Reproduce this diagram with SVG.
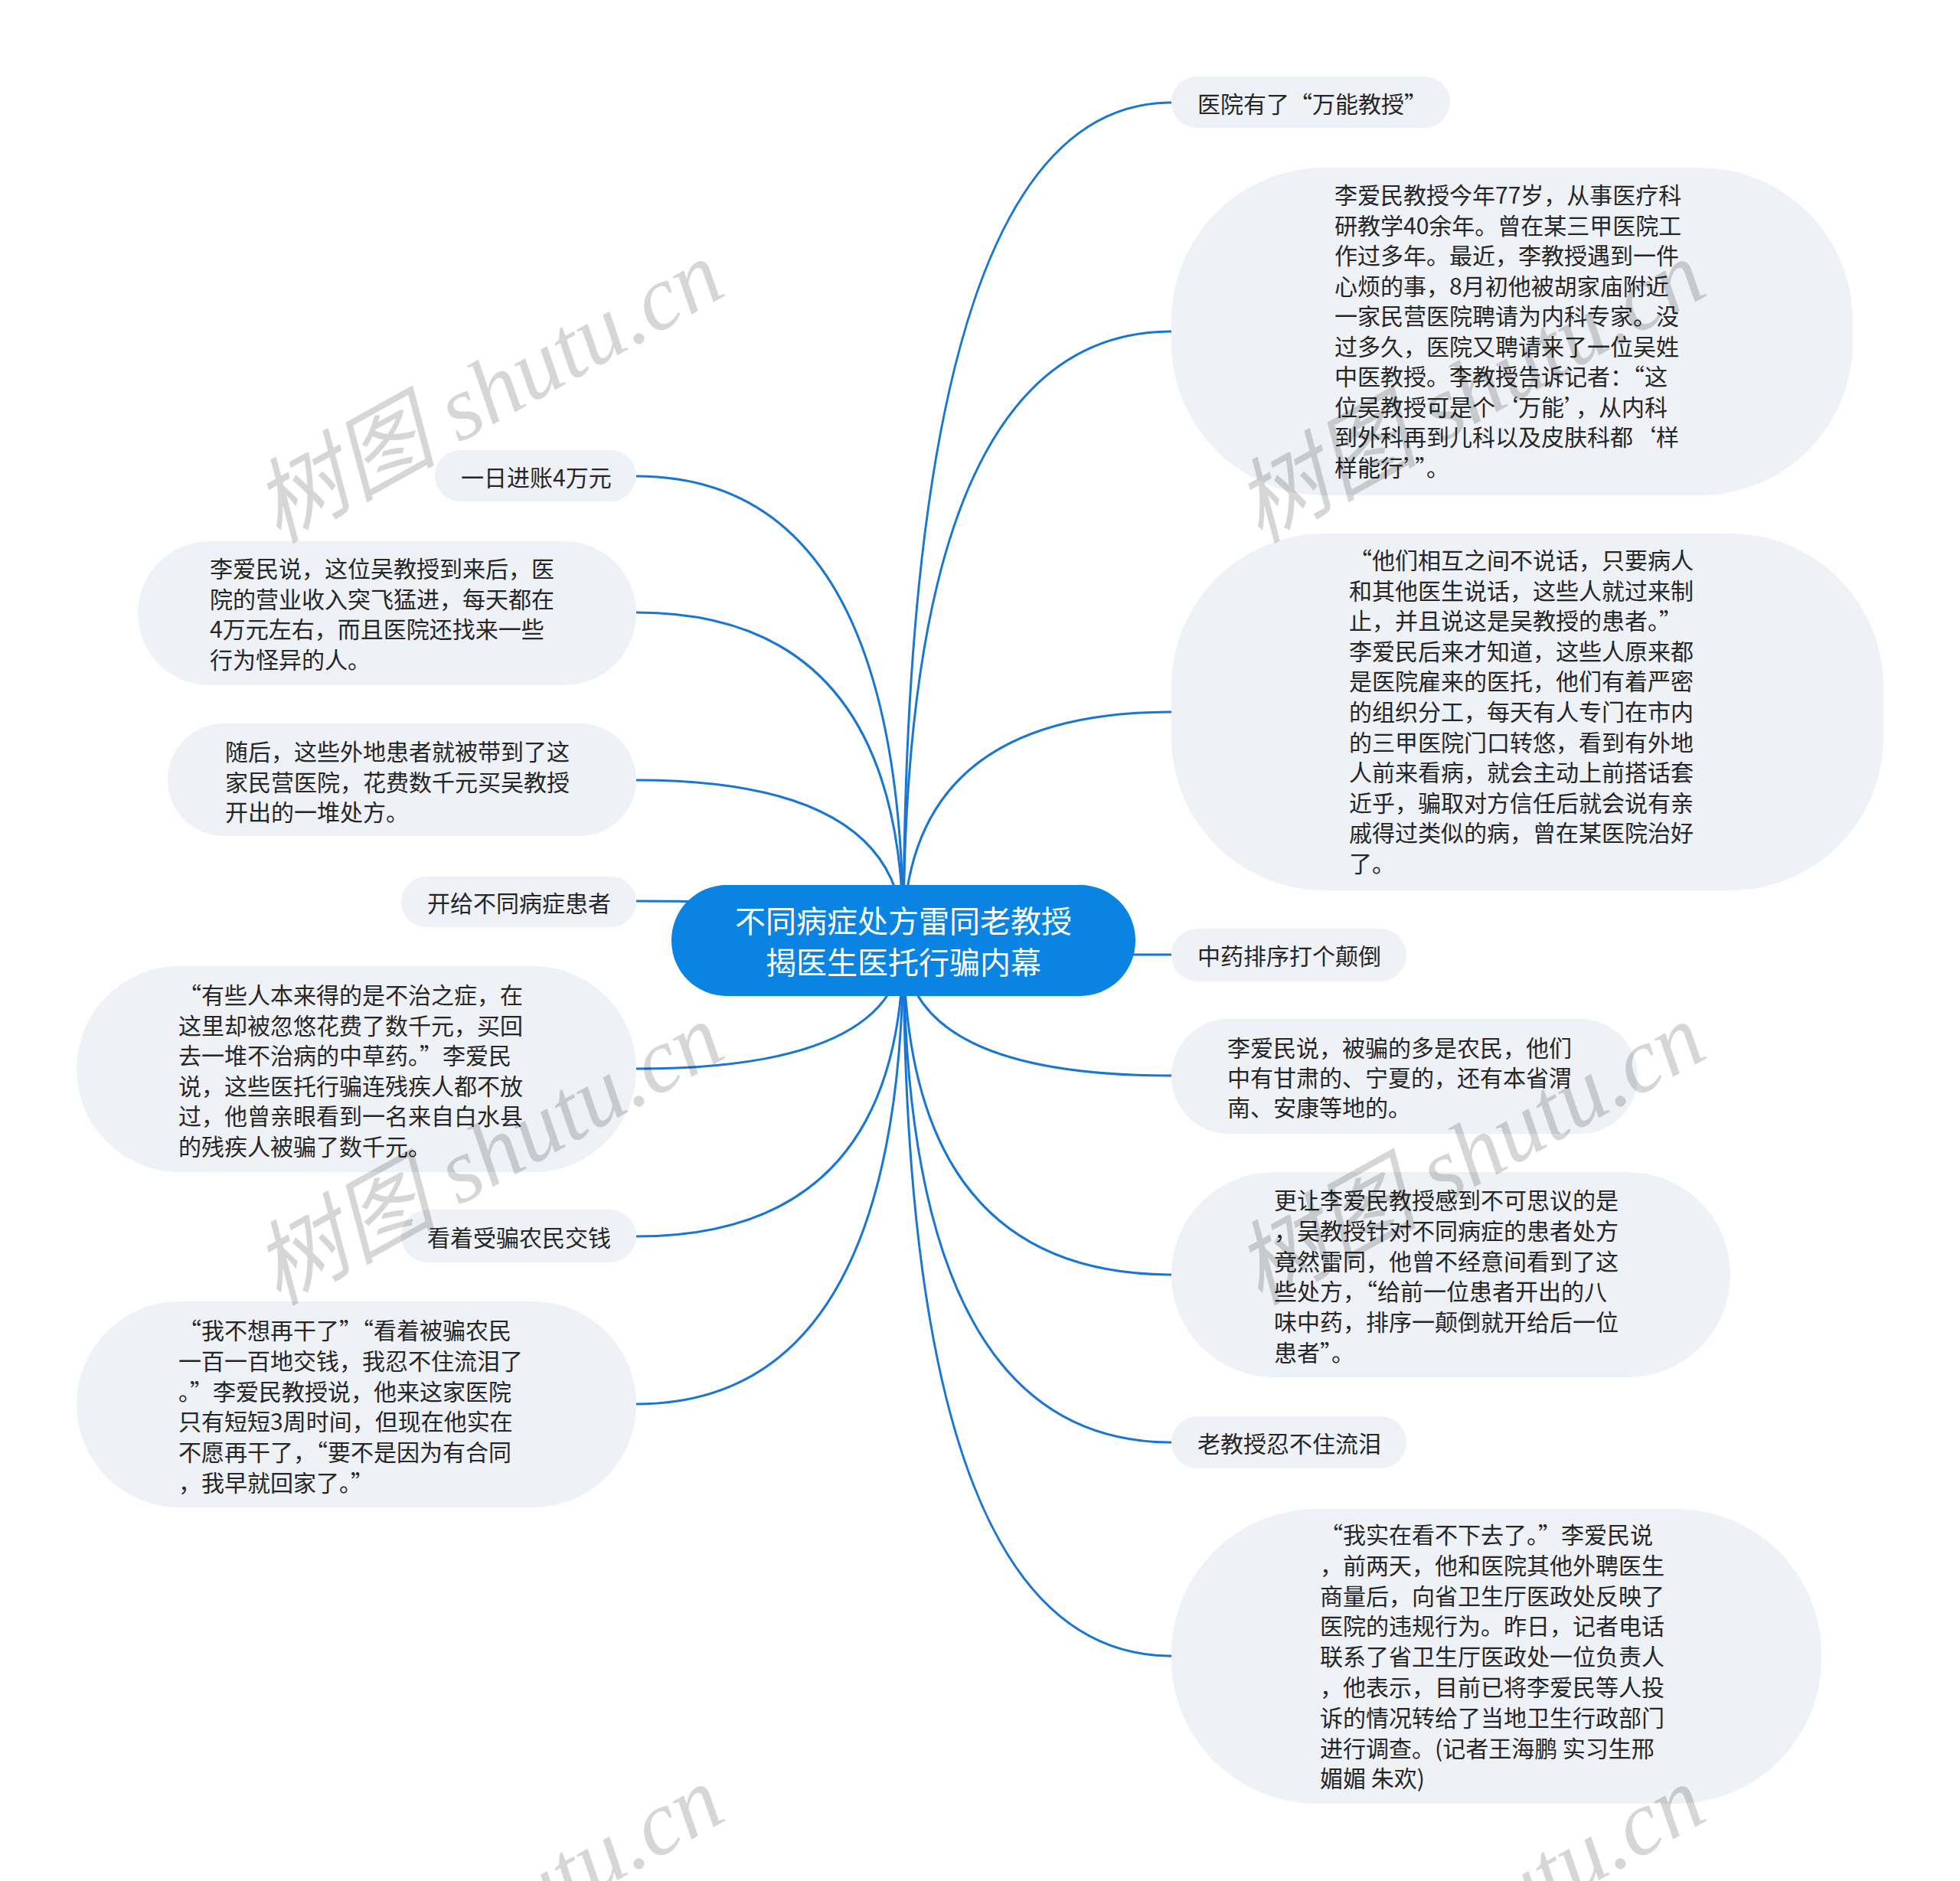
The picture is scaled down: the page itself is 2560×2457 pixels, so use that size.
<svg xmlns="http://www.w3.org/2000/svg" width="2560" height="2457" viewBox="0 0 2560 2457">
<style>
.bg{fill:#ffffff}
.link{fill:none;stroke:#1976d2;stroke-width:3}
.node{fill:#eef1f5}
.root{fill:#0984e3}
.t{font-family:"Noto Sans CJK SC","Noto Sans",sans-serif;font-size:30px;fill:#262626;dominant-baseline:central}
.rt{font-family:"Noto Sans CJK SC","Noto Sans",sans-serif;font-size:40px;fill:#ffffff;dominant-baseline:central;text-anchor:middle}
.wm{font-family:"Liberation Serif","Noto Sans CJK SC",serif;font-style:italic;font-size:120px;fill:#000000;fill-opacity:0.16}
</style>
<rect class="bg" x="0" y="0" width="2560" height="2457"/>
<g id="connectors">
<path class="link" d="M1180 1228 Q1180 134 1530 134"/>
<path class="link" d="M1180 1228 Q1180 433 1530 433"/>
<path class="link" d="M1180 1228 Q1180 930 1530 930"/>
<path class="link" d="M1180 1228 Q1180 1247 1530 1247"/>
<path class="link" d="M1180 1228 Q1180 1405 1530 1405"/>
<path class="link" d="M1180 1228 Q1180 1665 1530 1665"/>
<path class="link" d="M1180 1228 Q1180 1884 1530 1884"/>
<path class="link" d="M1180 1228 Q1180 2163 1530 2163"/>
<path class="link" d="M1180 1228 Q1180 622 831 622"/>
<path class="link" d="M1180 1228 Q1180 800 831 800"/>
<path class="link" d="M1180 1228 Q1180 1019 831 1019"/>
<path class="link" d="M1180 1228 Q1180 1177 831 1177"/>
<path class="link" d="M1180 1228 Q1180 1396 831 1396"/>
<path class="link" d="M1180 1228 Q1180 1615 831 1615"/>
<path class="link" d="M1180 1228 Q1180 1834 831 1834"/>
</g>
<g id="root">
<rect class="root" x="877" y="1156" width="606" height="145" rx="72"/>
<text class="rt" x="1180" y="1201">不同病症处方雷同老教授</text>
<text class="rt" x="1180" y="1255">揭医生医托行骗内幕</text>
</g>
<g id="r1">
<rect class="node" x="1530" y="100" width="364" height="67" rx="33.5"/>
<text class="t" x="1564" y="134">医院有了“万能教授”</text>
</g>
<g id="r2">
<rect class="node" x="1530" y="219" width="890" height="428" rx="200"/>
<text class="t" x="1743" y="253">李爱民教授今年77岁，从事医疗科</text>
<text class="t" x="1743" y="292.5">研教学40余年。曾在某三甲医院工</text>
<text class="t" x="1743" y="332">作过多年。最近，李教授遇到一件</text>
<text class="t" x="1743" y="371.5">心烦的事，8月初他被胡家庙附近</text>
<text class="t" x="1743" y="411">一家民营医院聘请为内科专家。没</text>
<text class="t" x="1743" y="450.5">过多久，医院又聘请来了一位吴姓</text>
<text class="t" x="1743" y="490">中医教授。李教授告诉记者：“这</text>
<text class="t" x="1743" y="529.5">位吴教授可是个‘万能’，从内科</text>
<text class="t" x="1743" y="569">到外科再到儿科以及皮肤科都‘样</text>
<text class="t" x="1743" y="608.5">样能行’”。</text>
</g>
<g id="r3">
<rect class="node" x="1530" y="697" width="930" height="466" rx="200"/>
<text class="t" x="1762" y="730">“他们相互之间不说话，只要病人</text>
<text class="t" x="1762" y="769.6">和其他医生说话，这些人就过来制</text>
<text class="t" x="1762" y="809.2">止，并且说这是吴教授的患者。”</text>
<text class="t" x="1762" y="848.8">李爱民后来才知道，这些人原来都</text>
<text class="t" x="1762" y="888.4">是医院雇来的医托，他们有着严密</text>
<text class="t" x="1762" y="928">的组织分工，每天有人专门在市内</text>
<text class="t" x="1762" y="967.6">的三甲医院门口转悠，看到有外地</text>
<text class="t" x="1762" y="1007.2">人前来看病，就会主动上前搭话套</text>
<text class="t" x="1762" y="1046.8">近乎，骗取对方信任后就会说有亲</text>
<text class="t" x="1762" y="1086.4">戚得过类似的病，曾在某医院治好</text>
<text class="t" x="1762" y="1126">了。</text>
</g>
<g id="r4">
<rect class="node" x="1530" y="1213" width="307" height="69" rx="34.5"/>
<text class="t" x="1564" y="1247">中药排序打个颠倒</text>
</g>
<g id="r5">
<rect class="node" x="1530" y="1331" width="609" height="150" rx="75"/>
<text class="t" x="1603" y="1367">李爱民说，被骗的多是农民，他们</text>
<text class="t" x="1603" y="1406">中有甘肃的、宁夏的，还有本省渭</text>
<text class="t" x="1603" y="1445">南、安康等地的。</text>
</g>
<g id="r6">
<rect class="node" x="1530" y="1531" width="730" height="268" rx="134"/>
<text class="t" x="1664" y="1566">更让李爱民教授感到不可思议的是</text>
<text class="t" x="1664" y="1605.8">，吴教授针对不同病症的患者处方</text>
<text class="t" x="1664" y="1645.6">竟然雷同，他曾不经意间看到了这</text>
<text class="t" x="1664" y="1685.4">些处方，“给前一位患者开出的八</text>
<text class="t" x="1664" y="1725.2">味中药，排序一颠倒就开给后一位</text>
<text class="t" x="1664" y="1765">患者”。</text>
</g>
<g id="r7">
<rect class="node" x="1530" y="1850" width="307" height="68" rx="34"/>
<text class="t" x="1564" y="1884">老教授忍不住流泪</text>
</g>
<g id="r8">
<rect class="node" x="1530" y="1971" width="849" height="385" rx="190"/>
<text class="t" x="1724" y="2003">“我实在看不下去了。”李爱民说</text>
<text class="t" x="1724" y="2042.8">，前两天，他和医院其他外聘医生</text>
<text class="t" x="1724" y="2082.6">商量后，向省卫生厅医政处反映了</text>
<text class="t" x="1724" y="2122.4">医院的违规行为。昨日，记者电话</text>
<text class="t" x="1724" y="2162.2">联系了省卫生厅医政处一位负责人</text>
<text class="t" x="1724" y="2202">，他表示，目前已将李爱民等人投</text>
<text class="t" x="1724" y="2241.8">诉的情况转给了当地卫生行政部门</text>
<text class="t" x="1724" y="2281.6">进行调查。(记者王海鹏 实习生邢</text>
<text class="t" x="1724" y="2321.4">媚媚 朱欢)</text>
</g>
<g id="l1">
<rect class="node" x="568" y="588" width="263" height="67" rx="33.5"/>
<text class="t" x="602" y="622">一日进账4万元</text>
</g>
<g id="l2">
<rect class="node" x="180" y="707" width="651" height="188" rx="94"/>
<text class="t" x="274" y="741">李爱民说，这位吴教授到来后，医</text>
<text class="t" x="274" y="780.7">院的营业收入突飞猛进，每天都在</text>
<text class="t" x="274" y="820.4">4万元左右，而且医院还找来一些</text>
<text class="t" x="274" y="860">行为怪异的人。</text>
</g>
<g id="l3">
<rect class="node" x="219" y="945" width="612" height="147" rx="73.5"/>
<text class="t" x="294" y="980">随后，这些外地患者就被带到了这</text>
<text class="t" x="294" y="1019.5">家民营医院，花费数千元买吴教授</text>
<text class="t" x="294" y="1059">开出的一堆处方。</text>
</g>
<g id="l4">
<rect class="node" x="524" y="1145" width="307" height="66" rx="33"/>
<text class="t" x="558" y="1178">开给不同病症患者</text>
</g>
<g id="l5">
<rect class="node" x="100" y="1262" width="731" height="269" rx="134.5"/>
<text class="t" x="233" y="1298">“有些人本来得的是不治之症，在</text>
<text class="t" x="233" y="1337.6">这里却被忽悠花费了数千元，买回</text>
<text class="t" x="233" y="1377.2">去一堆不治病的中草药。”李爱民</text>
<text class="t" x="233" y="1416.8">说，这些医托行骗连残疾人都不放</text>
<text class="t" x="233" y="1456.4">过，他曾亲眼看到一名来自白水县</text>
<text class="t" x="233" y="1496">的残疾人被骗了数千元。</text>
</g>
<g id="l6">
<rect class="node" x="524" y="1580" width="307" height="69" rx="34.5"/>
<text class="t" x="558" y="1615">看着受骗农民交钱</text>
</g>
<g id="l7">
<rect class="node" x="100" y="1700" width="731" height="269" rx="134.5"/>
<text class="t" x="233" y="1736">“我不想再干了”“看着被骗农民</text>
<text class="t" x="233" y="1775.8">一百一百地交钱，我忍不住流泪了</text>
<text class="t" x="233" y="1815.6">。”李爱民教授说，他来这家医院</text>
<text class="t" x="233" y="1855.4">只有短短3周时间，但现在他实在</text>
<text class="t" x="233" y="1895.2">不愿再干了，“要不是因为有合同</text>
<text class="t" x="233" y="1935">，我早就回家了。”</text>
</g>
<g id="watermarks">
<text class="wm" transform="translate(363 710) rotate(-29)">树图 shutu.cn</text>
<text class="wm" transform="translate(1645 710) rotate(-29)">树图 shutu.cn</text>
<text class="wm" transform="translate(363 1706) rotate(-29)">树图 shutu.cn</text>
<text class="wm" transform="translate(1645 1706) rotate(-29)">树图 shutu.cn</text>
<text class="wm" transform="translate(363 2702) rotate(-29)">树图 shutu.cn</text>
<text class="wm" transform="translate(1645 2702) rotate(-29)">树图 shutu.cn</text>
</g>
</svg>
